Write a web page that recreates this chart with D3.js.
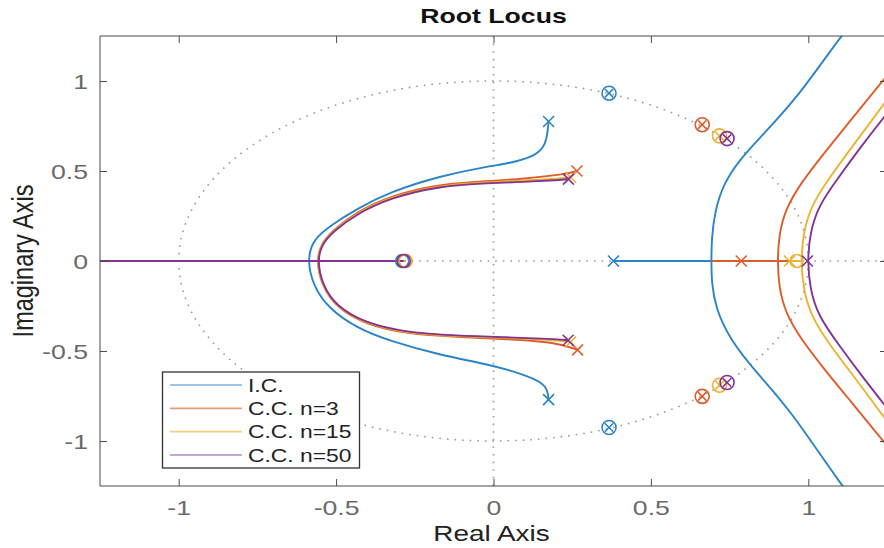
<!DOCTYPE html>
<html>
<head>
<meta charset="utf-8">
<script src="https://cdn.jsdelivr.net/npm/d3@7"></script>
<style>
  html, body { margin: 0; padding: 0; background: #fff; }
  svg { display: block; font-family: "Liberation Sans", Arial, Helvetica, sans-serif; }
</style>
</head>
<body>
<svg id="chart" width="884" height="548"></svg>
<script>
// ---- data -------------------------------------------------------------
const seriesNames = ["I.C.", "C.C. n=3", "C.C. n=15", "C.C. n=50"];

const xTicks = [-1, -0.5, 0, 0.5, 1];
const xTickLabels = ["-1", "-0.5", "0", "0.5", "1"];
const yTicks = [-1, -0.5, 0, 0.5, 1];
const yTickLabels = ["-1", "-0.5", "0", "0.5", "1"];

// I.C. loci (each branch listed from its lower end to its upper end)
const icLeftBranch = [[0.175,-0.77],[0.172,-0.72],[0.156,-0.675],[0.092,-0.628],[-0.013,-0.575],[-0.171,-0.522],[-0.33,-0.444],[-0.435,-0.372],[-0.525,-0.262],[-0.572,-0.139],[-0.592,0],[-0.574,0.12],[-0.515,0.2],[-0.435,0.289],[-0.33,0.383],[-0.171,0.472],[-0.013,0.528],[0.041,0.539],[0.137,0.583],[0.166,0.65],[0.172,0.72],[0.175,0.775]];
const icRightBranch = [[1.2,-1.45],[1.105,-1.25],[0.94,-0.82],[0.84,-0.63],[0.752,-0.44],[0.705,-0.26],[0.693,-0.12],[0.692,0],[0.693,0.13],[0.703,0.27],[0.728,0.42],[0.78,0.56],[0.86,0.71],[0.971,0.92],[1.105,1.256],[1.2,1.45]];
const icRealSegments = [[-1.4,-0.29],[0.381,0.692]];
const icPoles = [[0.175,0.775],[0.175,-0.77],[0.381,0]];
const icZeros = [[-0.29,0]];
const icPoleZero = [[0.367,0.932],[0.367,-0.925]];

// C.C. n=3 loci
const n3LeftBranch = [[0.267,-0.494],[0.2,-0.452],[0.041,-0.433],[-0.117,-0.422],[-0.276,-0.404],[-0.403,-0.355],[-0.498,-0.262],[-0.546,-0.135],[-0.562,0],[-0.55,0.09],[-0.511,0.17],[-0.435,0.272],[-0.33,0.361],[-0.171,0.428],[-0.013,0.444],[0.092,0.456],[0.232,0.483],[0.265,0.5]];
const n3RightBranch = [[1.4,-1.35],[1.238,-1.0],[1.135,-0.78],[1.05,-0.6],[0.975,-0.43],[0.928,-0.29],[0.907,-0.15],[0.902,0],[0.907,0.15],[0.928,0.29],[0.975,0.43],[1.048,0.595],[1.13,0.772],[1.238,1.006],[1.4,1.35]];
const n3RealSegments = [[-1.4,-0.28],[0.692,0.94]];
const n3Poles = [[0.265,0.5],[0.267,-0.494],[0.787,0]];
const n3Zeros = [[-0.28,0]];
const n3PoleZero = [[0.663,0.757],[0.663,-0.752]];

// C.C. n=15 loci
const n15LeftBranch = [[0.245,-0.45],[0.195,-0.44],[0.041,-0.428],[-0.117,-0.418],[-0.278,-0.4],[-0.404,-0.35],[-0.499,-0.257],[-0.546,-0.13],[-0.561,0],[-0.549,0.09],[-0.51,0.168],[-0.435,0.266],[-0.33,0.355],[-0.171,0.422],[-0.013,0.438],[0.092,0.447],[0.215,0.458],[0.245,0.465]];
const n15RightBranch = [[1.4,-1.25],[1.238,-0.86],[1.155,-0.665],[1.07,-0.47],[1.013,-0.32],[0.985,-0.17],[0.976,0],[0.985,0.17],[1.013,0.32],[1.07,0.47],[1.152,0.665],[1.238,0.867],[1.4,1.25]];
const n15RealSegments = [[-1.4,-0.28],[0.94,0.975]];
const n15Poles = [[0.245,0.465],[0.245,-0.45],[0.94,0]];
const n15Zeros = [[-0.28,0],[0.963,0]];
const n15PoleZero = [[0.718,0.695],[0.718,-0.69]];

// C.C. n=50 loci
const n50LeftBranch = [[0.237,-0.44],[0.19,-0.433],[0.041,-0.424],[-0.117,-0.415],[-0.28,-0.396],[-0.405,-0.346],[-0.5,-0.252],[-0.545,-0.127],[-0.559,0],[-0.547,0.09],[-0.508,0.166],[-0.435,0.261],[-0.33,0.35],[-0.171,0.417],[-0.013,0.433],[0.092,0.439],[0.21,0.45],[0.238,0.455]];
const n50RightBranch = [[1.4,-1.15],[1.238,-0.79],[1.175,-0.65],[1.092,-0.455],[1.032,-0.305],[1.006,-0.16],[0.997,0],[1.006,0.16],[1.032,0.305],[1.09,0.45],[1.171,0.644],[1.238,0.794],[1.4,1.15]];
const n50RealSegments = [[-1.4,-0.285]];
const n50Poles = [[0.238,0.455],[0.237,-0.44],[0.997,0]];
const n50Zeros = [[-0.285,0]];
const n50PoleZero = [[0.742,0.68],[0.742,-0.675]];

// ---- styles -------------------------------------------------------------
const colors = ["#2a84c8", "#dd5c2c", "#ecb330", "#823492"];
const legendColors = ["#7db3e0", "#eb9a7c", "#f2d07e", "#b58bc0"];

const series = [
  { branches: [icLeftBranch, icRightBranch], real: icRealSegments, poles: icPoles, zeros: icZeros, pz: icPoleZero },
  { branches: [n3LeftBranch, n3RightBranch], real: n3RealSegments, poles: n3Poles, zeros: n3Zeros, pz: n3PoleZero },
  { branches: [n15LeftBranch, n15RightBranch], real: n15RealSegments, poles: n15Poles, zeros: n15Zeros, pz: n15PoleZero },
  { branches: [n50LeftBranch, n50RightBranch], real: n50RealSegments, poles: n50Poles, zeros: n50Zeros, pz: n50PoleZero }
];

// ---- layout -------------------------------------------------------------
const svg = d3.select("#chart");
const plotLeft = 100, plotRight = 887, plotTop = 36, plotBottom = 486;
const x = d3.scaleLinear().domain([-1.25, 1.25]).range([plotLeft, plotRight]);
const y = d3.scaleLinear().domain([-1.25, 1.25]).range([plotBottom, plotTop]);
const STRETCH = 1.27;
const axisColor = "#4a4a4a";
const tickTextColor = "#6a6a6a";

svg.append("defs").append("clipPath").attr("id", "plotClip")
  .append("rect").attr("x", plotLeft).attr("y", plotTop)
  .attr("width", plotRight - plotLeft).attr("height", plotBottom - plotTop);

const plot = svg.append("g").attr("clip-path", "url(#plotClip)");

// dotted reference: unit circle and the two axes through the origin
const dotStyle = sel => sel.attr("fill", "none").attr("stroke", "#9a9a9a")
  .attr("stroke-width", 1.6).attr("stroke-dasharray", "1.6 6");
plot.append("ellipse")
  .attr("cx", x(0)).attr("cy", y(0))
  .attr("rx", x(1) - x(0)).attr("ry", y(0) - y(1))
  .call(dotStyle);
plot.append("line").attr("x1", x(0)).attr("x2", x(0)).attr("y1", plotTop).attr("y2", plotBottom).call(dotStyle);
plot.append("line").attr("x1", plotLeft).attr("x2", plotRight).attr("y1", y(0)).attr("y2", y(0)).call(dotStyle);

const line = d3.line().x(d => x(d[0])).y(d => y(d[1])).curve(d3.curveBasis);

series.forEach((s, i) => {
  const g = plot.append("g");
  s.real.forEach(seg => {
    g.append("line")
      .attr("x1", x(seg[0])).attr("x2", x(seg[1]))
      .attr("y1", y(0)).attr("y2", y(0))
      .attr("stroke", colors[i]).attr("stroke-width", 1.9);
  });
  s.branches.forEach(b => {
    g.append("path").attr("d", line(b)).attr("fill", "none")
      .attr("stroke", colors[i]).attr("stroke-width", 1.9);
  });
});

// markers: x = pole, o = zero, crossed circle = pole on top of zero
const cross = (g, px, py, r, c) => {
  g.append("path")
    .attr("d", `M${px - r},${py - r}L${px + r},${py + r}M${px - r},${py + r}L${px + r},${py - r}`)
    .attr("stroke", c).attr("stroke-width", 1.6).attr("fill", "none");
};
series.forEach((s, i) => {
  const g = plot.append("g");
  s.poles.forEach(p => cross(g, x(p[0]), y(p[1]), 5.5, colors[i]));
  s.zeros.forEach(p => {
    g.append("circle").attr("cx", x(p[0])).attr("cy", y(p[1])).attr("r", 6.5)
      .attr("fill", "none").attr("stroke", colors[i]).attr("stroke-width", 1.6);
  });
  s.pz.forEach(p => {
    g.append("circle").attr("cx", x(p[0])).attr("cy", y(p[1])).attr("r", 7)
      .attr("fill", "none").attr("stroke", colors[i]).attr("stroke-width", 1.6);
    cross(g, x(p[0]), y(p[1]), 4.2, colors[i]);
  });
});

// ---- axes box -------------------------------------------------------------
const frame = svg.append("g").attr("stroke", axisColor);
frame.append("line").attr("x1", plotLeft).attr("x2", plotRight).attr("y1", plotTop).attr("y2", plotTop);
frame.append("line").attr("x1", plotLeft).attr("x2", plotRight).attr("y1", plotBottom).attr("y2", plotBottom);
frame.append("line").attr("x1", plotLeft).attr("x2", plotLeft).attr("y1", plotTop).attr("y2", plotBottom);
frame.append("line").attr("x1", plotRight).attr("x2", plotRight).attr("y1", plotTop).attr("y2", plotBottom);

const tickLen = 7;
const axBottom = svg.append("g").attr("transform", `translate(0,${plotBottom})`)
  .call(d3.axisBottom(x).tickValues(xTicks).tickSize(-tickLen).tickPadding(0)
    .tickFormat((d, i) => xTickLabels[i]));
const axTop = svg.append("g").attr("transform", `translate(0,${plotTop})`)
  .call(d3.axisTop(x).tickValues(xTicks).tickSize(-tickLen).tickFormat(""));
const axLeft = svg.append("g").attr("transform", `translate(${plotLeft},0)`)
  .call(d3.axisLeft(y).tickValues(yTicks).tickSize(-tickLen).tickPadding(0)
    .tickFormat((d, i) => yTickLabels[i]));
const axRight = svg.append("g").attr("transform", `translate(${plotRight},0)`)
  .call(d3.axisRight(y).tickValues(yTicks).tickSize(-tickLen).tickFormat(""));

[axBottom, axTop, axLeft, axRight].forEach(a => {
  a.select(".domain").remove();
  a.selectAll(".tick line").attr("stroke", axisColor).attr("stroke-width", 1);
});

axBottom.selectAll(".tick text")
  .attr("x", null).attr("y", null).attr("dy", null)
  .attr("transform", `translate(0,29) scale(${STRETCH},1)`)
  .attr("text-anchor", "middle")
  .attr("font-size", 21).attr("fill", tickTextColor)
  .attr("font-family", "Liberation Sans, Arial, sans-serif");
axLeft.selectAll(".tick text")
  .attr("x", null).attr("dy", null)
  .attr("transform", `translate(-12,7.5) scale(${STRETCH},1)`)
  .attr("text-anchor", "end")
  .attr("font-size", 21).attr("fill", tickTextColor)
  .attr("font-family", "Liberation Sans, Arial, sans-serif");

// ---- titles -------------------------------------------------------------
svg.append("text")
  .attr("transform", `translate(${x(0)},23) scale(${STRETCH},1)`)
  .attr("text-anchor", "middle").attr("font-size", 21).attr("font-weight", "bold")
  .attr("fill", "#111").text("Root Locus");
svg.append("text")
  .attr("transform", `translate(${x(0) - 2},541) scale(${STRETCH},1)`)
  .attr("text-anchor", "middle").attr("font-size", 22)
  .attr("fill", "#222").text("Real Axis");
svg.append("text")
  .attr("transform", `translate(33,${y(0)}) scale(${STRETCH},1) rotate(-90)`)
  .attr("text-anchor", "middle").attr("font-size", 23.5)
  .attr("fill", "#222").text("Imaginary Axis");

// ---- legend -------------------------------------------------------------
const legend = svg.append("g");
legend.append("rect").attr("x", 162.5).attr("y", 372).attr("width", 197).attr("height", 96)
  .attr("fill", "#fff").attr("stroke", "#333").attr("stroke-width", 1.3);
const rowY = d3.scalePoint().domain(seriesNames).range([385, 455]);
seriesNames.forEach((name, i) => {
  const ry = rowY(name);
  legend.append("line").attr("x1", 170).attr("x2", 242).attr("y1", ry).attr("y2", ry)
    .attr("stroke", legendColors[i]).attr("stroke-width", 1.6);
  legend.append("text")
    .attr("transform", `translate(248,${ry + 6.5}) scale(${STRETCH},1)`)
    .attr("font-size", 18).attr("fill", "#222").text(name);
});
</script>
</body>
</html>
